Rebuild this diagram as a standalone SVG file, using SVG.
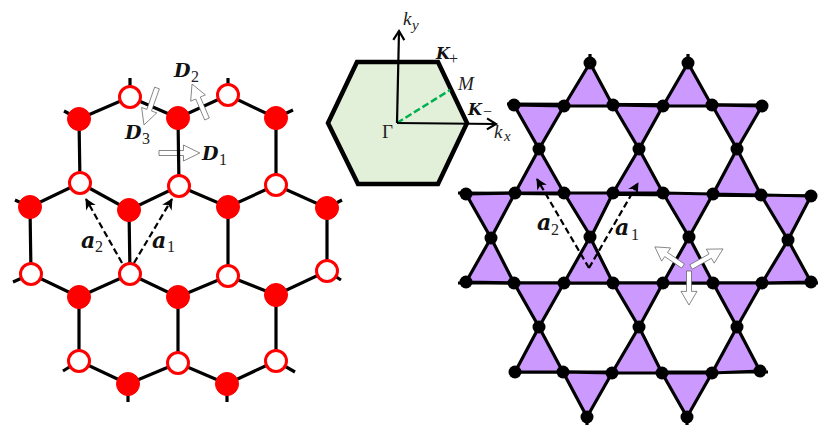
<svg xmlns="http://www.w3.org/2000/svg" xmlns:xlink="http://www.w3.org/1999/xlink" width="831" height="437" viewBox="0 0 831 437">
<style>
.e{fill:none;stroke:#000;stroke-width:3.200}
.f{fill:#f00;stroke:#f00;stroke-width:1}
.o{fill:#fff;stroke:#f00;stroke-width:3}
.t{fill:#c9f;stroke:#000;stroke-width:3.200;stroke-linejoin:round}
.k{fill:#000}
.d{fill:none;stroke:#000;stroke-width:2.200;stroke-dasharray:6.500 3.500}
.b{font:italic bold 19px "DejaVu Serif",serif;fill:#111}
.a{font:italic bold 22px "DejaVu Serif",serif;fill:#111}
.s{font:16px "Liberation Serif",serif;fill:#222}
.i{font:italic 19px "Liberation Serif",serif;fill:#222}
.blk{fill:#fff;stroke:#555;stroke-width:.7;vector-effect:non-scaling-stroke}
</style>
<defs>
<path id="blk" class="blk" d="M0-2.500H24V-8L40 0 24 8V2.500H0Z"/>
<marker id="ah" markerWidth="14" markerHeight="14" refX="11" refY="7" orient="auto" markerUnits="userSpaceOnUse"><path d="M1 1.500L12 7 1 12.500 4 7Z" fill="#000"/></marker>
<marker id="oh" markerWidth="14" markerHeight="14" refX="11" refY="7" orient="auto" markerUnits="userSpaceOnUse"><path d="M2 1.500L11 7 2 12.500" fill="none" stroke="#000" stroke-width="2.200"/></marker>
</defs>

<use xlink:href="#blk" transform="translate(159 153) scale(1.02 1)"/>
<g id="connectors">
<path class="e" d="M130 78V97L79 119 64 111M130 97L178 118 228 95 276 118 293 110M228 78V95M79 119L80 183 30 207 15 200M80 183L129 210 179 186 228 207 276 185 327 208 342 200M178 118L179 186M276 118L276 185M30 207L31 274 79 297 130 274 178 297 228 276 276 295 327 271 341 280M31 274L13 282M129 210L130 274M228 207L228 276M327 208L327 271M79 297L79 361 128 384 178 363 227 384 276 361 295 372M178 297L178 363M276 295L276 361M79 361L63 371M128 384V402M227 384V402"/>
<path class="e" d="M590 54V63M688 54V63M507 104L768 105M458 193L817 196M458 283H818M509 372L768 372M587 417V425M687 417V425"/>
<path class="d" d="M122 263L86 199" marker-end="url(#ah)"/>
<path class="d" d="M134 263L172 199" marker-end="url(#ah)"/>
</g>

<g id="bz">
<path d="M357 62H438L467 123 438 184H358L328 123Z" fill="#e2efd9" stroke="#000" stroke-width="4.500"/>
<path d="M397 123L450 90" fill="none" stroke="#00b050" stroke-width="2.500" stroke-dasharray="7 3"/>
<path d="M397 123L399 31" fill="none" stroke="#000" stroke-width="2.200" marker-end="url(#oh)"/>
<path d="M397 123L496 124" fill="none" stroke="#000" stroke-width="2.200" marker-end="url(#oh)"/>
</g>

<g id="triangles">
<path class="t" d="M590 63L564 106H613Z"/>
<path class="t" d="M688 63L663 106H712Z"/>
<path class="t" d="M514 105L564 106 539 149Z"/>
<path class="t" d="M613 105L663 106 639 149Z"/>
<path class="t" d="M712 105L762 106 737 149Z"/>
<path class="t" d="M539 149L515 193H564Z"/>
<path class="t" d="M639 149L613 193H663Z"/>
<path class="t" d="M737 149L713 194 761 195Z"/>
<path class="t" d="M466 194L515 193 491 238Z"/>
<path class="t" d="M564 193H613L591 237Z"/>
<path class="t" d="M663 193L713 194 689 237Z"/>
<path class="t" d="M761 195L811 196 788 240Z"/>
<path class="t" d="M491 238L466 282 514 283Z"/>
<path class="t" d="M590 237L564 283H613Z"/>
<path class="t" d="M689 237L663 283H713Z"/>
<path class="t" d="M788 240L762 283 811 282Z"/>
<path class="t" d="M514 283H564L539 327Z"/>
<path class="t" d="M613 283H663L639 327Z"/>
<path class="t" d="M713 283H762L737 327Z"/>
<path class="t" d="M539 327L515 372H563Z"/>
<path class="t" d="M639 327L612 373H662Z"/>
<path class="t" d="M737 327L712 373 760 371Z"/>
<path class="t" d="M563 372L612 373 587 417Z"/>
<path class="t" d="M662 373L712 373 687 417Z"/>
</g>

<g id="h1"><circle class="o" cx="130" cy="97" r="10.500"/></g>
<g id="h2"><circle class="o" cx="228" cy="95" r="10.500"/></g>
<g id="h3"><circle class="f" cx="79" cy="119" r="11.500"/></g>
<g id="h4"><circle class="f" cx="178" cy="118" r="11.500"/></g>
<g id="h5"><circle class="f" cx="276" cy="118" r="11.500"/></g>
<g id="h6"><circle class="o" cx="80" cy="183" r="10.500"/></g>
<g id="h7"><circle class="o" cx="179" cy="186" r="10.500"/></g>
<g id="h8"><circle class="o" cx="276" cy="185" r="10.500"/></g>
<g id="h9"><circle class="f" cx="30" cy="207" r="11.500"/></g>
<g id="h10"><circle class="f" cx="129" cy="210" r="11.500"/></g>
<g id="h11"><circle class="f" cx="228" cy="207" r="11.500"/></g>
<g id="h12"><circle class="f" cx="327" cy="208" r="11.500"/></g>
<g id="h13"><circle class="o" cx="31" cy="274" r="10.500"/></g>
<g id="h14"><circle class="o" cx="130" cy="274" r="10.500"/></g>
<g id="h15"><circle class="o" cx="228" cy="276" r="10.500"/></g>
<g id="h16"><circle class="o" cx="327" cy="271" r="10.500"/></g>
<g id="h17"><circle class="f" cx="79" cy="297" r="11.500"/></g>
<g id="h18"><circle class="f" cx="178" cy="297" r="11.500"/></g>
<g id="h19"><circle class="f" cx="276" cy="295" r="11.500"/></g>
<g id="h20"><circle class="o" cx="79" cy="361" r="10.500"/></g>
<g id="h21"><circle class="o" cx="178" cy="363" r="10.500"/></g>
<g id="h22"><circle class="o" cx="276" cy="361" r="10.500"/></g>
<g id="h23"><circle class="f" cx="128" cy="384" r="11.500"/></g>
<g id="h24"><circle class="f" cx="227" cy="384" r="11.500"/></g>

<g id="k1"><circle class="k" cx="590" cy="63" r="6.500"/></g>
<g id="k2"><circle class="k" cx="688" cy="63" r="6.500"/></g>
<g id="k3"><circle class="k" cx="514" cy="105" r="6.500"/></g>
<g id="k4"><circle class="k" cx="564" cy="106" r="6.500"/></g>
<g id="k5"><circle class="k" cx="613" cy="105" r="6.500"/></g>
<g id="k6"><circle class="k" cx="663" cy="106" r="6.500"/></g>
<g id="k7"><circle class="k" cx="712" cy="105" r="6.500"/></g>
<g id="k8"><circle class="k" cx="762" cy="106" r="6.500"/></g>
<g id="k9"><circle class="k" cx="539" cy="149" r="6.500"/></g>
<g id="k10"><circle class="k" cx="639" cy="149" r="6.500"/></g>
<g id="k11"><circle class="k" cx="737" cy="149" r="6.500"/></g>
<g id="k12"><circle class="k" cx="466" cy="194" r="6.500"/></g>
<g id="k13"><circle class="k" cx="515" cy="193" r="6.500"/></g>
<g id="k14"><circle class="k" cx="564" cy="193" r="6.500"/></g>
<g id="k15"><circle class="k" cx="613" cy="193" r="6.500"/></g>
<g id="k16"><circle class="k" cx="663" cy="193" r="6.500"/></g>
<g id="k17"><circle class="k" cx="713" cy="194" r="6.500"/></g>
<g id="k18"><circle class="k" cx="761" cy="195" r="6.500"/></g>
<g id="k19"><circle class="k" cx="811" cy="196" r="6.500"/></g>
<g id="k20"><circle class="k" cx="491" cy="238" r="6.500"/></g>
<g id="k21"><circle class="k" cx="590" cy="237" r="6.500"/></g>
<g id="k22"><circle class="k" cx="689" cy="237" r="6.500"/></g>
<g id="k23"><circle class="k" cx="788" cy="240" r="6.500"/></g>
<g id="k24"><circle class="k" cx="466" cy="282" r="6.500"/></g>
<g id="k25"><circle class="k" cx="514" cy="283" r="6.500"/></g>
<g id="k26"><circle class="k" cx="564" cy="283" r="6.500"/></g>
<g id="k27"><circle class="k" cx="613" cy="283" r="6.500"/></g>
<g id="k28"><circle class="k" cx="663" cy="283" r="6.500"/></g>
<g id="k29"><circle class="k" cx="713" cy="283" r="6.500"/></g>
<g id="k30"><circle class="k" cx="762" cy="283" r="6.500"/></g>
<g id="k31"><circle class="k" cx="811" cy="282" r="6.500"/></g>
<g id="k32"><circle class="k" cx="539" cy="327" r="6.500"/></g>
<g id="k33"><circle class="k" cx="639" cy="327" r="6.500"/></g>
<g id="k34"><circle class="k" cx="737" cy="327" r="6.500"/></g>
<g id="k35"><circle class="k" cx="515" cy="372" r="6.500"/></g>
<g id="k36"><circle class="k" cx="563" cy="372" r="6.500"/></g>
<g id="k37"><circle class="k" cx="612" cy="373" r="6.500"/></g>
<g id="k38"><circle class="k" cx="662" cy="373" r="6.500"/></g>
<g id="k39"><circle class="k" cx="712" cy="373" r="6.500"/></g>
<g id="k40"><circle class="k" cx="760" cy="371" r="6.500"/></g>
<g id="k41"><circle class="k" cx="587" cy="417" r="6.500"/></g>
<g id="k42"><circle class="k" cx="687" cy="417" r="6.500"/></g>

<g id="dashed-arrows">
<path class="d" d="M589 268L537 179" marker-end="url(#ah)"/>
<path class="d" d="M589 268L638 183" marker-end="url(#ah)"/>
</g>

<g id="block-arrows">
<use xlink:href="#blk" transform="translate(207 119) rotate(-113.200) scale(.95 1)"/>
<use xlink:href="#blk" transform="translate(157 88) rotate(109.400) scale(.98 1)"/>
<use xlink:href="#blk" transform="translate(683 266) rotate(-145.800) scale(.85 1)"/>
<use xlink:href="#blk" transform="translate(691 267) rotate(-29.400) scale(.92 1)"/>
<use xlink:href="#blk" transform="translate(689 271) rotate(90) scale(.85 1)"/>
</g>

<g id="labels">
<text class="a" x="81" y="248">a</text><text class="s" x="95" y="252">2</text>
<text class="a" x="152" y="248">a</text><text class="s" x="167" y="252">1</text>
<text class="b" x="174" y="77">D</text><text class="s" x="191" y="82">2</text>
<text class="b" x="125" y="139">D</text><text class="s" x="142" y="144">3</text>
<text class="b" x="202" y="160">D</text><text class="s" x="219" y="165">1</text>
<text class="a" x="537" y="230">a</text><text class="s" x="551" y="235">2</text>
<text class="a" x="615" y="235">a</text><text class="s" x="631" y="240">1</text>
<text class="b" x="436" y="59" style="font-size:16px">K</text><text class="s" x="449" y="64">+</text>
<text class="i" x="458" y="90">M</text>
<text class="b" x="468" y="115" style="font-size:16px">K</text><text class="s" x="483" y="117">−</text>
<text class="i" x="403" y="25">k</text><text class="i" x="412" y="30" style="font-size:15px">y</text>
<text class="i" x="494" y="138">k</text><text class="i" x="504" y="141" style="font-size:15px">x</text>
<text x="382" y="138" style="font:19px 'Liberation Serif',serif;fill:#222">Γ</text>
</g>
</svg>
